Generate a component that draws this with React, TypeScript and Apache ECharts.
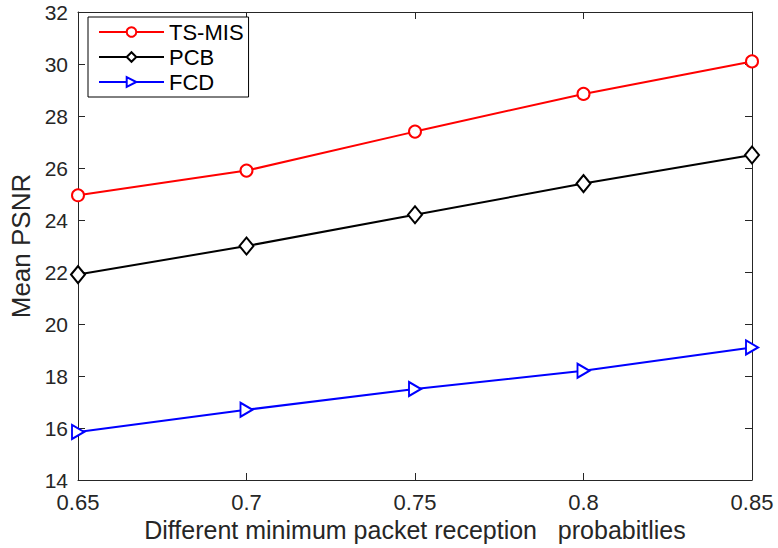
import React, { useEffect, useRef } from "react";
import * as echarts from "echarts";

const categories = ["0.65", "0.7", "0.75", "0.8", "0.85"];
const tsMis = [24.95, 25.9, 27.4, 28.85, 30.1];
const pcb = [21.9, 23.0, 24.2, 25.4, 26.5];
const fcd = [15.85, 16.7, 17.5, 18.2, 19.1];

const FONT = "Liberation Sans, Arial, Helvetica, sans-serif";
const AXIS_COLOR = "#262626";

export default function App() {
  const ref = useRef<HTMLDivElement>(null);
  useEffect(() => {
    if (!ref.current) return;
    const chart = echarts.init(ref.current, null, { renderer: "svg" });
    const axisLine = { show: true, lineStyle: { color: AXIS_COLOR, width: 1 } };
    const axisTick = { show: true, inside: true, length: 7, lineStyle: { color: AXIS_COLOR } };
    chart.setOption({
      animation: false,
      backgroundColor: "#ffffff",
      textStyle: { fontFamily: FONT },
      grid: { left: 78, right: 26, top: 12, bottom: 68, containLabel: false, outerBoundsMode: "none" },
      legend: {
        orient: "vertical",
        left: 88,
        top: 17,
        padding: [4, 5, 4, 10],
        itemWidth: 65,
        itemHeight: 12,
        itemGap: 3,
        backgroundColor: "#ffffff",
        borderColor: "#000000",
        borderWidth: 1,
        borderRadius: 0,
        textStyle: { fontSize: 22, color: "#000000", fontFamily: FONT },
        data: ["TS-MIS", "PCB", "FCD"],
      },
      xAxis: [
        {
          type: "category",
          data: categories,
          boundaryGap: false,
          axisLine,
          axisTick: { ...axisTick, alignWithLabel: true },
          axisLabel: { color: AXIS_COLOR, fontSize: 22, margin: 11, fontFamily: FONT },
          splitLine: { show: false },
          name: "Different minimum packet reception   probabitlies",
          nameLocation: "middle",
          nameGap: 35,
          nameTextStyle: { color: AXIS_COLOR, fontSize: 25, fontFamily: FONT },
        },
        {
          type: "category",
          data: categories,
          boundaryGap: false,
          position: "top",
          axisLine,
          axisTick,
          axisLabel: { show: false },
          splitLine: { show: false },
        },
      ],
      yAxis: [
        {
          type: "value",
          min: 14,
          max: 32,
          interval: 2,
          axisLine,
          axisTick,
          axisLabel: {
            color: AXIS_COLOR,
            fontSize: 21,
            lineHeight: 18,
            margin: 10,
            fontFamily: FONT,
          },
          splitLine: { show: false },
          name: "Mean PSNR",
          nameLocation: "middle",
          nameGap: 44,
          nameTextStyle: { color: AXIS_COLOR, fontSize: 26, fontFamily: FONT },
        },
        {
          type: "value",
          min: 14,
          max: 32,
          interval: 2,
          position: "right",
          axisLine,
          axisTick,
          axisLabel: { show: false },
          splitLine: { show: false },
        },
      ],
      series: [
        {
          name: "TS-MIS",
          type: "line",
          data: tsMis,
          symbol: "circle",
          symbolSize: 12,
          lineStyle: { color: "#ff0000", width: 2 },
          itemStyle: { color: "#ffffff", borderColor: "#ff0000", borderWidth: 2 },
          showAllSymbol: true,
        },
        {
          name: "PCB",
          type: "line",
          data: pcb,
          symbol: "diamond",
          symbolSize: [14, 17],
          lineStyle: { color: "#000000", width: 2 },
          itemStyle: { color: "#ffffff", borderColor: "#000000", borderWidth: 2 },
          showAllSymbol: true,
        },
        {
          name: "FCD",
          type: "line",
          data: fcd,
          symbol: "path://M0,0 L10,6 L0,12 Z",
          symbolSize: [12, 14],
          lineStyle: { color: "#0000ff", width: 2 },
          itemStyle: { color: "#ffffff", borderColor: "#0000ff", borderWidth: 2 },
          showAllSymbol: true,
        },
      ],
    });
    return () => chart.dispose();
  }, []);
  return (
    <div
      ref={ref}
      style={{ position: "absolute", left: 0, top: 0, width: 778, height: 548 }}
    />
  );
}
